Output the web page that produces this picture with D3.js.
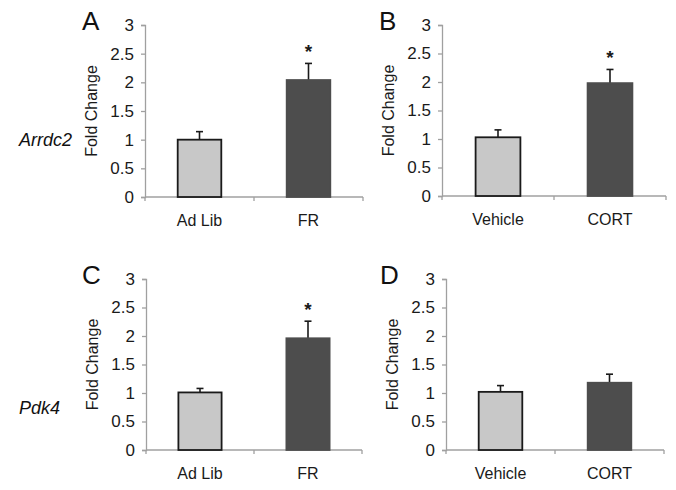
<!DOCTYPE html>
<html><head><meta charset="utf-8">
<script src="https://cdn.jsdelivr.net/npm/d3@7"></script>
<style>body{margin:0;background:#fff}svg{display:block}</style>
</head><body>
<script>
const panelLetters = ["A", "B", "C", "D"];
const geneLabels = ["Arrdc2", "Pdk4"];
const categoriesAB = ["Ad Lib", "FR"];
const categoriesCD = ["Vehicle", "CORT"];
const panelCategories = [categoriesAB, categoriesCD, categoriesAB, categoriesCD];
const panelMeans = [[1.00, 2.04], [1.03, 1.98], [1.01, 1.96], [1.02, 1.18]];
const panelErrors = [[0.14, 0.29], [0.13, 0.24], [0.07, 0.30], [0.11, 0.15]];
const panelSignif = [[false, true], [false, true], [false, true], [false, false]];
const yTicks = [0, 0.5, 1, 1.5, 2, 2.5, 3];
const barColors = ["#c8c8c8", "#4d4d4d"];

const W = 676, H = 490;
const svg = d3.select("body").append("svg").attr("width", W).attr("height", H);
const font = "'Liberation Sans', Arial, sans-serif";

const layout = [
  {x0: 145, x1: 363, yTop: 25, yBot: 197, lx: 82, ly: 30},
  {x0: 442, x1: 666, yTop: 25, yBot: 196, lx: 379, ly: 30},
  {x0: 146, x1: 362, yTop: 279, yBot: 450, lx: 82, ly: 284},
  {x0: 446, x1: 664, yTop: 279, yBot: 450, lx: 380, ly: 284}
];

layout.forEach((L, i) => {
  const g = svg.append("g");
  const x = d3.scaleBand().domain(panelCategories[i]).range([L.x0, L.x1]).paddingInner(0.6).paddingOuter(0.3);
  const y = d3.scaleLinear().domain([0, 3]).range([L.yBot, L.yTop]);

  // y axis
  const ya = d3.axisLeft(y).tickValues(yTicks).tickSize(4).tickPadding(7).tickFormat(d3.format("~g"));
  const yg = g.append("g").attr("transform", `translate(${L.x0},0)`).call(ya);
  yg.select(".domain").attr("stroke", "#a0a0a0").attr("stroke-width", 1.3);
  yg.selectAll(".tick line").attr("stroke", "#a0a0a0").attr("stroke-width", 1.3);
  yg.selectAll(".tick text").attr("font-family", font).attr("font-size", 17).attr("fill", "#1a1a1a");

  // x axis line with ticks at category boundaries
  g.append("line").attr("x1", L.x0).attr("x2", L.x1).attr("y1", y(0)).attr("y2", y(0))
    .attr("stroke", "#a0a0a0").attr("stroke-width", 1.3);
  const bounds = [0, 1, 2].map(k => L.x0 + k * (L.x1 - L.x0) / 2);
  g.selectAll(".xt").data(bounds).enter().append("line")
    .attr("x1", d => d).attr("x2", d => d).attr("y1", y(0)).attr("y2", y(0) + 4)
    .attr("stroke", "#a0a0a0").attr("stroke-width", 1.3);

  const data = panelCategories[i].map((c, k) => ({c, v: panelMeans[i][k], e: panelErrors[i][k], s: panelSignif[i][k], k}));

  // error bars
  data.forEach(d => {
    const cx = x(d.c) + x.bandwidth() / 2;
    g.append("line").attr("x1", cx).attr("x2", cx).attr("y1", y(d.v)).attr("y2", y(d.v + d.e))
      .attr("stroke", "#1a1a1a").attr("stroke-width", 1.6);
    g.append("line").attr("x1", cx - 3.5).attr("x2", cx + 3.5).attr("y1", y(d.v + d.e)).attr("y2", y(d.v + d.e))
      .attr("stroke", "#1a1a1a").attr("stroke-width", 1.6);
    if (d.s) {
      g.append("text").attr("x", cx).attr("y", y(d.v + d.e) - 5).attr("text-anchor", "middle")
        .attr("font-family", font).attr("font-size", 19).attr("font-weight", "bold").attr("fill", "#1a1a1a").text("*");
    }
  });

  // bars
  g.selectAll(".bar").data(data).enter().append("rect")
    .attr("x", d => x(d.c)).attr("width", x.bandwidth())
    .attr("y", d => y(d.v)).attr("height", d => y(0) - y(d.v))
    .attr("fill", d => barColors[d.k])
    .attr("stroke", d => d.k === 0 ? "#1a1a1a" : "#4d4d4d").attr("stroke-width", 1.8);

  // x labels
  g.selectAll(".xl").data(data).enter().append("text")
    .attr("x", d => x(d.c) + x.bandwidth() / 2).attr("y", L.yBot + 29)
    .attr("text-anchor", "middle").attr("font-family", font).attr("font-size", 16).attr("fill", "#1a1a1a")
    .text(d => d.c);

  // y label
  g.append("text").attr("transform", `translate(${L.x0 - 48},${(L.yTop + L.yBot) / 2}) rotate(-90)`)
    .attr("text-anchor", "middle").attr("font-family", font).attr("font-size", 16).attr("fill", "#1a1a1a")
    .text("Fold Change");

  // panel letter
  g.append("text").attr("x", L.lx).attr("y", L.ly).attr("font-family", font).attr("font-size", 26)
    .attr("fill", "#111").text(panelLetters[i]);
});

// gene labels
svg.selectAll(".gene").data(geneLabels).enter().append("text")
  .attr("x", 19).attr("y", (d, i) => i === 0 ? 146 : 414)
  .attr("font-family", font).attr("font-size", 18).attr("font-style", "italic").attr("fill", "#111")
  .text(d => d);
</script>
</body></html>
